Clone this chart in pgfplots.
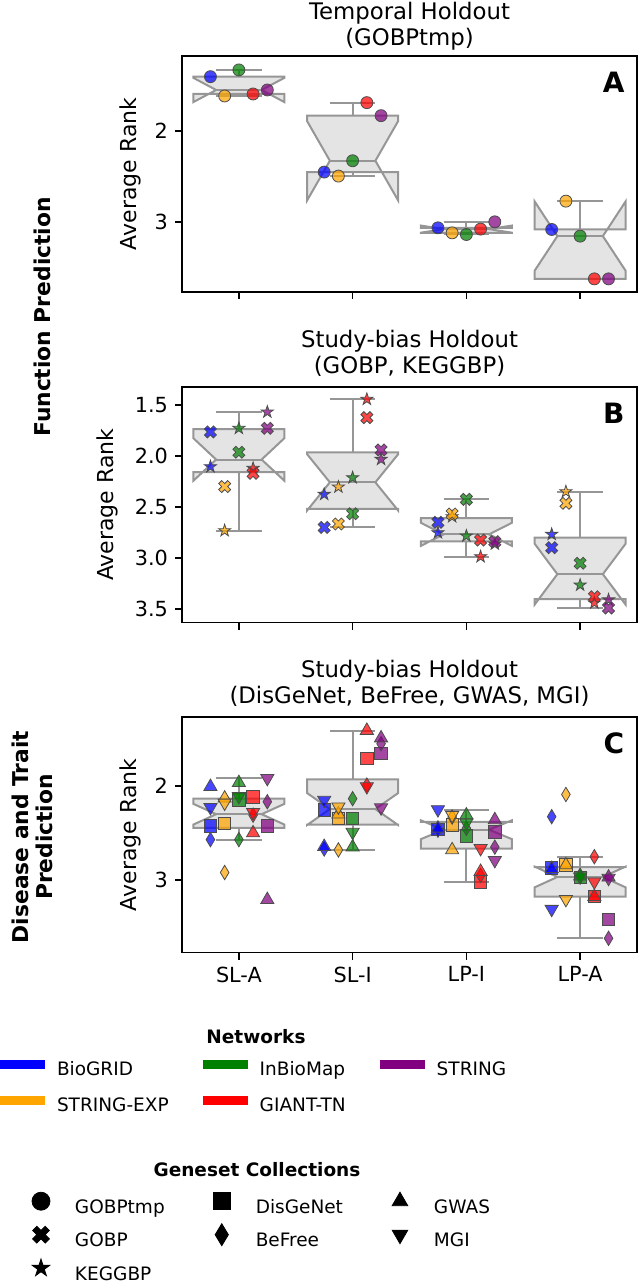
\documentclass[border=0pt]{standalone}
\usepackage{pgfplots}
\pgfplotsset{compat=1.18}
\usepackage{fontspec}
\setmainfont{DejaVu Sans}

\definecolor{cb}{RGB}{0,0,255}
\definecolor{co}{RGB}{255,165,0}
\definecolor{cg}{RGB}{0,128,0}
\definecolor{cr}{RGB}{255,0,0}
\definecolor{cp}{RGB}{128,0,128}
\definecolor{boxfill}{RGB}{228,228,228}
\definecolor{boxedge}{RGB}{150,150,150}

\pgfdeclareplotmark{Xf}{%
  \pgfpathmoveto{\pgfqpoint{-0.5\pgfplotmarksize}{-1\pgfplotmarksize}}%
  \pgfpathlineto{\pgfqpoint{0pt}{-0.5\pgfplotmarksize}}%
  \pgfpathlineto{\pgfqpoint{0.5\pgfplotmarksize}{-1\pgfplotmarksize}}%
  \pgfpathlineto{\pgfqpoint{1\pgfplotmarksize}{-0.5\pgfplotmarksize}}%
  \pgfpathlineto{\pgfqpoint{0.5\pgfplotmarksize}{0pt}}%
  \pgfpathlineto{\pgfqpoint{1\pgfplotmarksize}{0.5\pgfplotmarksize}}%
  \pgfpathlineto{\pgfqpoint{0.5\pgfplotmarksize}{1\pgfplotmarksize}}%
  \pgfpathlineto{\pgfqpoint{0pt}{0.5\pgfplotmarksize}}%
  \pgfpathlineto{\pgfqpoint{-0.5\pgfplotmarksize}{1\pgfplotmarksize}}%
  \pgfpathlineto{\pgfqpoint{-1\pgfplotmarksize}{0.5\pgfplotmarksize}}%
  \pgfpathlineto{\pgfqpoint{-0.5\pgfplotmarksize}{0pt}}%
  \pgfpathlineto{\pgfqpoint{-1\pgfplotmarksize}{-0.5\pgfplotmarksize}}%
  \pgfpathclose\pgfusepathqfillstroke}
\pgfdeclareplotmark{fstar}{%
  \pgfpathmoveto{\pgfqpoint{0pt}{1\pgfplotmarksize}}%
  \pgfpathlineto{\pgfqpoint{-0.2245\pgfplotmarksize}{0.309\pgfplotmarksize}}%
  \pgfpathlineto{\pgfqpoint{-0.951\pgfplotmarksize}{0.309\pgfplotmarksize}}%
  \pgfpathlineto{\pgfqpoint{-0.363\pgfplotmarksize}{-0.118\pgfplotmarksize}}%
  \pgfpathlineto{\pgfqpoint{-0.588\pgfplotmarksize}{-0.809\pgfplotmarksize}}%
  \pgfpathlineto{\pgfqpoint{0pt}{-0.382\pgfplotmarksize}}%
  \pgfpathlineto{\pgfqpoint{0.588\pgfplotmarksize}{-0.809\pgfplotmarksize}}%
  \pgfpathlineto{\pgfqpoint{0.363\pgfplotmarksize}{-0.118\pgfplotmarksize}}%
  \pgfpathlineto{\pgfqpoint{0.951\pgfplotmarksize}{0.309\pgfplotmarksize}}%
  \pgfpathlineto{\pgfqpoint{0.2245\pgfplotmarksize}{0.309\pgfplotmarksize}}%
  \pgfpathclose\pgfusepathqfillstroke}
\pgfdeclareplotmark{tup}{%
  \pgfpathmoveto{\pgfqpoint{0pt}{1\pgfplotmarksize}}%
  \pgfpathlineto{\pgfqpoint{-0.866\pgfplotmarksize}{-0.5\pgfplotmarksize}}%
  \pgfpathlineto{\pgfqpoint{0.866\pgfplotmarksize}{-0.5\pgfplotmarksize}}%
  \pgfpathclose\pgfusepathqfillstroke}
\pgfdeclareplotmark{tdown}{%
  \pgfpathmoveto{\pgfqpoint{0pt}{-1\pgfplotmarksize}}%
  \pgfpathlineto{\pgfqpoint{-0.866\pgfplotmarksize}{0.5\pgfplotmarksize}}%
  \pgfpathlineto{\pgfqpoint{0.866\pgfplotmarksize}{0.5\pgfplotmarksize}}%
  \pgfpathclose\pgfusepathqfillstroke}
\pgfdeclareplotmark{tdiam}{%
  \pgfpathmoveto{\pgfqpoint{0pt}{1\pgfplotmarksize}}%
  \pgfpathlineto{\pgfqpoint{0.6\pgfplotmarksize}{0pt}}%
  \pgfpathlineto{\pgfqpoint{0pt}{-1\pgfplotmarksize}}%
  \pgfpathlineto{\pgfqpoint{-0.6\pgfplotmarksize}{0pt}}%
  \pgfpathclose\pgfusepathqfillstroke}
\pgfdeclareplotmark{fsq}{%
  \pgfpathrectangle{\pgfqpoint{-1\pgfplotmarksize}{-1\pgfplotmarksize}}{\pgfqpoint{2\pgfplotmarksize}{2\pgfplotmarksize}}%
  \pgfusepathqfillstroke}

\pgfplotsset{
  panel/.style={
    scale only axis, width=227.5pt, anchor=south west,
    xmin=-0.5, xmax=3.5, y dir=reverse,
    xtick={0,1,2,3}, xticklabels={},
    tick align=outside, xtick pos=bottom, ytick pos=left,
    major tick length=3.5pt,
    every tick/.style={black, line width=0.8pt},
    axis line style={line width=0.8pt},
    ylabel={Average Rank},
    ylabel style={at={(axis description cs:-0.1143,0.5)}, anchor=center, font=\fontsize{11}{13}\selectfont},
    tick label style={font=\fontsize{10.4}{12}\selectfont},
    /pgf/number format/assume math mode=true,
    title style={align=center, font=\fontsize{11.4}{13}\selectfont, at={(axis description cs:0.5,1)}, anchor=south, inner sep=0pt, yshift=-1pt},
  },
  boxst/.style={fill=boxfill, draw=boxedge, line width=1pt, line join=miter},
  whst/.style={draw=boxedge, line width=1pt},
  pt/.style={only marks, mark options={fill=#1, fill opacity=0.72, draw=black!70, line width=0.4pt}},
  lmark/.style={legend image code/.code={\path[draw=none, fill=none] (-8pt,-2pt) rectangle (8pt,7pt);\draw[overlay, #1, fill=black, draw=black] plot coordinates {(0pt,3.4pt)};}},
  lline/.style={legend image code/.code={\path[draw=none, fill=none] (0pt,-2pt) rectangle (22.5pt,7pt);\draw[overlay, #1, line width=4.5pt] (0pt,3.2pt) -- (22.5pt,3.2pt);}},
}

% notched box: x, q1, q3, median, notch low, notch high, whisker low, whisker high
\newcommand\nbox[8]{%
  \pgfmathsetmacro\bxL{#1-0.4}%
  \pgfmathsetmacro\bxR{#1+0.4}%
  \pgfmathsetmacro\bcL{#1-0.2}%
  \pgfmathsetmacro\bcR{#1+0.2}%
  \edef\tmpbox{%
    \noexpand\addplot[boxst] coordinates {(\bxL,#2) (\bxR,#2) (\bxR,#5) (\bcR,#4) (\bxR,#6) (\bxR,#3) (\bxL,#3) (\bxL,#6) (\bcL,#4) (\bxL,#5)} -- cycle;
    \noexpand\addplot[whst] coordinates {(#1,#2) (#1,#7)};
    \noexpand\addplot[whst] coordinates {(#1,#3) (#1,#8)};
    \noexpand\addplot[whst] coordinates {(\bcL,#7) (\bcR,#7)};
    \noexpand\addplot[whst] coordinates {(\bcL,#8) (\bcR,#8)};
    \noexpand\addplot[whst] coordinates {(\bcL,#4) (\bcR,#4)};
  }\tmpbox}

\begin{document}
\begin{tikzpicture}
\path[use as bounding box] (0,0) rectangle (319pt,641.5pt);

% ---------------- Panel A ----------------
\begin{axis}[panel, at={(91pt,495.5pt)}, height=118pt,
  ymin=1.18, ymax=3.77, ytick={2,3},
  title style={yshift=-2.5pt},
  title={Temporal Holdout\\(GOBPtmp)}]
\nbox{0}{1.407}{1.597}{1.553}{1.420}{1.686}{1.333}{1.619}
\nbox{1}{1.835}{2.454}{2.330}{1.895}{2.765}{1.692}{2.498}
\nbox{2}{3.066}{3.121}{3.080}{3.041}{3.119}{3.000}{3.139}
\nbox{3}{3.084}{3.626}{3.157}{2.776}{3.537}{2.773}{3.626}
\addplot[pt=cb, mark=*, mark size=3pt] coordinates {(-0.25,1.407) (0.75,2.454) (1.75,3.066) (2.75,3.084)};
\addplot[pt=co, mark=*, mark size=3pt] coordinates {(-0.125,1.619) (0.875,2.498) (1.875,3.121) (2.875,2.773)};
\addplot[pt=cg, mark=*, mark size=3pt] coordinates {(0,1.333) (1,2.330) (2,3.139) (3,3.157)};
\addplot[pt=cr, mark=*, mark size=3pt] coordinates {(0.125,1.597) (1.125,1.692) (2.125,3.080) (3.125,3.626)};
\addplot[pt=cp, mark=*, mark size=3pt] coordinates {(0.25,1.553) (1.25,1.835) (2.25,3.000) (3.25,3.626)};
\node[font=\bfseries\fontsize{14}{16}\selectfont] at (axis description cs:0.949,0.89) {A};
\end{axis}

% ---------------- Panel B ----------------
\begin{axis}[panel, at={(91pt,330.15pt)}, height=117.85pt,
  ymin=1.324, ymax=3.634, ytick={1.5,2,2.5,3,3.5},
  ylabel style={at={(axis description cs:-0.163,0.5)}},
  yticklabel style={/pgf/number format/.cd, fixed, fixed zerofill, precision=1},
  title={Study-bias Holdout\\(GOBP, KEGGBP)}]
\nbox{0}{1.738}{2.158}{2.035}{1.826}{2.243}{1.569}{2.732}
\nbox{1}{1.964}{2.5185}{2.2585}{1.983}{2.534}{1.444}{2.700}
\nbox{2}{2.609}{2.836}{2.768}{2.655}{2.881}{2.425}{2.987}
\nbox{3}{2.801}{3.4025}{3.1585}{2.860}{3.457}{2.350}{3.490}
% KEGGBP (stars)
\addplot[pt=cb, mark=fstar, mark size=3.2pt] coordinates {(-0.25,2.105) (0.75,2.376) (1.75,2.752) (2.75,2.768)};
\addplot[pt=co, mark=fstar, mark size=3.2pt] coordinates {(-0.125,2.732) (0.875,2.304) (1.875,2.595) (2.875,2.350)};
\addplot[pt=cg, mark=fstar, mark size=3.2pt] coordinates {(0,1.729) (1,2.213) (2,2.784) (3,3.265)};
\addplot[pt=cr, mark=fstar, mark size=3.2pt] coordinates {(0.125,2.121) (1.125,1.444) (2.125,2.987) (3.125,3.440)};
\addplot[pt=cp, mark=fstar, mark size=3.2pt] coordinates {(0.25,1.569) (1.25,2.033) (2.25,2.863) (3.25,3.410)};
% GOBP (X)
\addplot[pt=cb, mark=Xf, mark size=3pt] coordinates {(-0.25,1.765) (0.75,2.700) (1.75,2.650) (2.75,2.899)};
\addplot[pt=co, mark=Xf, mark size=3pt] coordinates {(-0.125,2.300) (0.875,2.667) (1.875,2.569) (2.875,2.464)};
\addplot[pt=cg, mark=Xf, mark size=3pt] coordinates {(0,1.964) (1,2.566) (2,2.425) (3,3.052)};
\addplot[pt=cr, mark=Xf, mark size=3pt] coordinates {(0.125,2.170) (1.125,1.624) (2.125,2.824) (3.125,3.380)};
\addplot[pt=cp, mark=Xf, mark size=3pt] coordinates {(0.25,1.729) (1.25,1.941) (2.25,2.840) (3.25,3.490)};
\node[font=\bfseries\fontsize{14}{16}\selectfont] at (axis description cs:0.949,0.89) {B};
\end{axis}

% ---------------- Panel C ----------------
\begin{axis}[panel, at={(91pt,165.15pt)}, height=117.7pt,
  ymin=1.269, ymax=3.773, ytick={2,3},
  xticklabels={SL-A,SL-I,LP-I,LP-A},
  title={Study-bias Holdout\\(DisGeNet, BeFree, GWAS, MGI)}]
\nbox{0}{2.135}{2.445}{2.300}{2.190}{2.410}{1.918}{2.570}
\nbox{1}{1.930}{2.410}{2.245}{2.075}{2.415}{1.410}{2.680}
\nbox{2}{2.3825}{2.667}{2.465}{2.365}{2.565}{2.250}{3.020}
\nbox{3}{2.8625}{3.177}{2.9675}{2.857}{3.078}{2.752}{3.620}
% DisGeNet (squares)
\addplot[pt=cb, mark=fsq, mark size=3.1pt] coordinates {(-0.25,2.426) (0.75,2.255) (1.75,2.460) (2.75,2.870)};
\addplot[pt=co, mark=fsq, mark size=3.1pt] coordinates {(-0.125,2.400) (0.875,2.345) (1.875,2.415) (2.875,2.840)};
\addplot[pt=cg, mark=fsq, mark size=3.1pt] coordinates {(0,2.149) (1,2.345) (2,2.530) (3,2.970)};
\addplot[pt=cr, mark=fsq, mark size=3.1pt] coordinates {(0.125,2.114) (1.125,1.705) (2.125,3.020) (3.125,3.177)};
\addplot[pt=cp, mark=fsq, mark size=3.1pt] coordinates {(0.25,2.426) (1.25,1.655) (2.25,2.490) (3.25,3.418)};
% BeFree (diamonds)
\addplot[pt=cb, mark=tdiam, mark size=3.6pt] coordinates {(-0.25,2.570) (0.75,2.670) (1.75,2.470) (2.75,2.326)};
\addplot[pt=co, mark=tdiam, mark size=3.6pt] coordinates {(-0.125,2.920) (0.875,2.680) (1.875,2.330) (2.875,2.090)};
\addplot[pt=cg, mark=tdiam, mark size=3.6pt] coordinates {(0,2.570) (1,2.135) (2,2.450) (3,2.950)};
\addplot[pt=cr, mark=tdiam, mark size=3.6pt] coordinates {(0.125,2.310) (1.125,1.990) (2.125,2.950) (3.125,2.752)};
\addplot[pt=cp, mark=tdiam, mark size=3.6pt] coordinates {(0.25,2.167) (1.25,1.550) (2.25,2.650) (3.25,3.620)};
% GWAS (triangle up)
\addplot[pt=cb, mark=tup, mark size=3.8pt] coordinates {(-0.25,2.007) (0.75,2.645) (1.75,2.450) (2.75,2.880)};
\addplot[pt=co, mark=tup, mark size=3.8pt] coordinates {(-0.125,2.130) (0.875,2.300) (1.875,2.680) (2.875,2.840)};
\addplot[pt=cg, mark=tup, mark size=3.8pt] coordinates {(0,1.965) (1,2.650) (2,2.310) (3,2.960)};
\addplot[pt=cr, mark=tup, mark size=3.8pt] coordinates {(0.125,2.500) (1.125,1.410) (2.125,2.910) (3.125,3.177)};
\addplot[pt=cp, mark=tup, mark size=3.8pt] coordinates {(0.25,3.210) (1.25,1.490) (2.25,2.360) (3.25,2.970)};
% MGI (triangle down)
\addplot[pt=cb, mark=tdown, mark size=3.8pt] coordinates {(-0.25,2.227) (0.75,2.150) (1.75,2.250) (2.75,3.310)};
\addplot[pt=co, mark=tdown, mark size=3.8pt] coordinates {(-0.125,2.180) (0.875,2.220) (1.875,2.310) (2.875,3.205)};
\addplot[pt=cg, mark=tdown, mark size=3.8pt] coordinates {(0,2.110) (1,2.490) (2,2.390) (3,2.965)};
\addplot[pt=cr, mark=tdown, mark size=3.8pt] coordinates {(0.125,2.280) (1.125,2.005) (2.125,2.663) (3.125,3.018)};
\addplot[pt=cp, mark=tdown, mark size=3.8pt] coordinates {(0.25,1.918) (1.25,2.230) (2.25,2.790) (3.25,2.980)};
\node[font=\bfseries\fontsize{14}{16}\selectfont] at (axis description cs:0.949,0.89) {C};
\end{axis}

% ---------------- Row labels ----------------
\node[rotate=90, font=\bfseries\fontsize{10.9}{13}\selectfont] at (21pt,483pt) {Function Prediction};
\node[rotate=90, align=center, font=\bfseries\fontsize{10.9}{12}\selectfont] at (16pt,223pt) {Disease and Trait\\Prediction};

% ---------------- Legends ----------------
\node[font=\bfseries\fontsize{9.25}{11}\selectfont] at (128pt,123pt) {Networks};
\node[font=\bfseries\fontsize{9.25}{11}\selectfont] at (128.5pt,56.5pt) {Geneset Collections};

\begin{axis}[at={(0pt,0pt)}, anchor=south west, scale only axis, width=319pt, height=641.5pt,
  hide axis, xmin=0, xmax=1, ymin=0, ymax=1,
  legend columns=3, legend cell align=left,
  legend style={at={(0,0.17615)}, anchor=north west, draw=none, fill=none, inner sep=0pt, outer sep=0pt,
    font=\fontsize{9.25}{11}\selectfont, row sep=6.5pt,
    nodes={inner sep=0pt, text height=7pt, text depth=2pt},
    /tikz/every odd column/.append style={column sep=6pt},
    /tikz/every even column/.append style={column sep=17pt}}]
\addlegendimage{lline=cb}\addlegendentry{BioGRID}
\addlegendimage{lline=cg}\addlegendentry{InBioMap}
\addlegendimage{lline=cp}\addlegendentry{STRING}
\addlegendimage{lline=co}\addlegendentry{STRING-EXP}
\addlegendimage{lline=cr}\addlegendentry{GIANT-TN}
\end{axis}

\begin{axis}[at={(0pt,0pt)}, anchor=south west, scale only axis, width=319pt, height=641.5pt,
  hide axis, xmin=0, xmax=1, ymin=0, ymax=1,
  legend columns=3, legend cell align=left,
  legend style={at={(0.03918,0.06937)}, anchor=north west, draw=none, fill=none, inner sep=0pt, outer sep=0pt,
    font=\fontsize{9.25}{11}\selectfont, row sep=5.25pt,
    nodes={inner sep=0pt, text height=7pt, text depth=2pt},
    /tikz/every odd column/.append style={column sep=9pt},
    /tikz/every even column/.append style={column sep=20.5pt}}]
\addlegendimage{lmark={mark=*, mark size=4.5pt}}\addlegendentry{GOBPtmp}
\addlegendimage{lmark={mark=fsq, mark size=4.2pt}}\addlegendentry{DisGeNet}
\addlegendimage{lmark={mark=tup, mark size=4.5pt}}\addlegendentry{GWAS}
\addlegendimage{lmark={mark=Xf, mark size=4.2pt}}\addlegendentry{GOBP}
\addlegendimage{lmark={mark=tdiam, mark size=5.5pt}}\addlegendentry{BeFree}
\addlegendimage{lmark={mark=tdown, mark size=4.5pt}}\addlegendentry{MGI}
\addlegendimage{lmark={mark=fstar, mark size=4.6pt}}\addlegendentry{KEGGBP}
\end{axis}
\end{tikzpicture}
\end{document}
